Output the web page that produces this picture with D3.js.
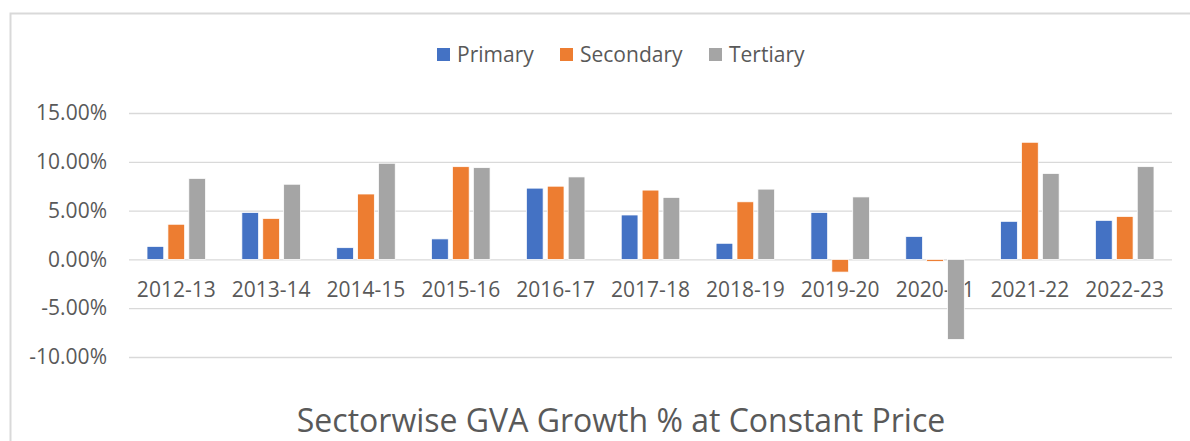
<!DOCTYPE html>
<html>
<head>
<meta charset="utf-8">
<script src="https://cdn.jsdelivr.net/npm/d3@7"></script>
<style>
  html, body { margin: 0; padding: 0; background: #fff; }
  svg { display: block; }
  text { font-family: "Open Sans", "Noto Sans", sans-serif; fill: #595959; }
</style>
</head>
<body>
<svg id="chart" width="1190" height="441"></svg>
<script>
const categories = ["2012-13","2013-14","2014-15","2015-16","2016-17","2017-18","2018-19","2019-20","2020-21","2021-22","2022-23"];
const seriesNames = ["Primary","Secondary","Tertiary"];
const seriesColors = ["#4472C4","#ED7D31","#A5A5A5"];
const primary   = [1.33, 4.8, 1.2, 2.1, 7.3, 4.55, 1.65, 4.8, 2.35, 3.9, 4.0];
const secondary = [3.6, 4.2, 6.7, 9.5, 7.5, 7.1, 5.9, -1.3, -0.2, 12.0, 4.4];
const tertiary  = [8.3, 7.7, 9.85, 9.4, 8.45, 6.35, 7.2, 6.4, -8.2, 8.8, 9.5];
const yTicks = [-10, -5, 0, 5, 10, 15];
const title = "Sectorwise GVA Growth % at Constant Price";

const seriesValues = [primary, secondary, tertiary];
const svg = d3.select("#chart");

// frame
svg.append("path")
  .attr("d", "M10.5,441 L10.5,13.5 L1190,13.5")
  .attr("fill", "none").attr("stroke", "#d9d9d9").attr("stroke-width", 2);

const plot = { left: 129, right: 1172, top: 113, bottom: 357 };
const y = d3.scaleLinear().domain([-10, 15]).range([plot.bottom, plot.top]);
const x0 = d3.scaleBand().domain(categories).range([plot.left, plot.right])
  .paddingInner(0.383).paddingOuter(0.19);
const x1 = d3.scaleBand().domain(seriesNames).range([0, x0.bandwidth()]).paddingInner(0.2);

// gridlines
const yAxis = d3.axisLeft(y).tickValues(yTicks)
  .tickSize(-(plot.right - plot.left))
  .tickFormat(d => d.toFixed(2) + "%")
  .tickPadding(22);
const gy = svg.append("g").attr("transform", `translate(${plot.left},0)`).call(yAxis);
gy.select(".domain").remove();
gy.selectAll(".tick line").attr("stroke", "#d9d9d9").attr("stroke-width", 1.3);
gy.selectAll(".tick text").attr("fill", "#595959").style("font-size", "21px")
  .style("font-family", '"Open Sans", sans-serif');

// category labels (drawn below bars)
const xAxis = d3.axisBottom(x0).tickSize(0).tickPadding(0);
const gx = svg.append("g").attr("transform", `translate(0,${y(0)})`).call(xAxis);
gx.select(".domain").remove();
gx.selectAll(".tick text").attr("fill", "#595959").style("font-size", "21px")
  .style("font-family", '"Open Sans", sans-serif')
  .attr("dy", "0").attr("y", 38);

// bars
const groups = svg.append("g").selectAll("g").data(categories).join("g")
  .attr("transform", d => `translate(${x0(d)},0)`);
groups.selectAll("rect")
  .data((c, i) => seriesNames.map((s, j) => ({ s, j, v: seriesValues[j][i] })))
  .join("rect")
  .attr("x", d => x1(d.s))
  .attr("width", x1.bandwidth())
  .attr("y", d => y(Math.max(0, d.v)))
  .attr("height", d => Math.abs(y(d.v) - y(0)))
  .attr("fill", d => seriesColors[d.j])
  .attr("stroke", "#fff").attr("stroke-width", 0.75);

// legend
const legendX = [437, 560, 709];
const lg = svg.append("g").selectAll("g").data(seriesNames).join("g")
  .attr("transform", (d, i) => `translate(${legendX[i]},55)`);
lg.append("rect").attr("x", 0).attr("y", -7).attr("width", 13).attr("height", 13)
  .attr("fill", (d, i) => seriesColors[i]);
lg.append("text").attr("x", 20).attr("y", 0).attr("dy", "0.35em")
  .style("font-size", "21px").text(d => d);

// title
svg.append("text").attr("x", 621).attr("y", 432).attr("text-anchor", "middle")
  .style("font-size", "32px").text(title);
</script>
</body>
</html>
